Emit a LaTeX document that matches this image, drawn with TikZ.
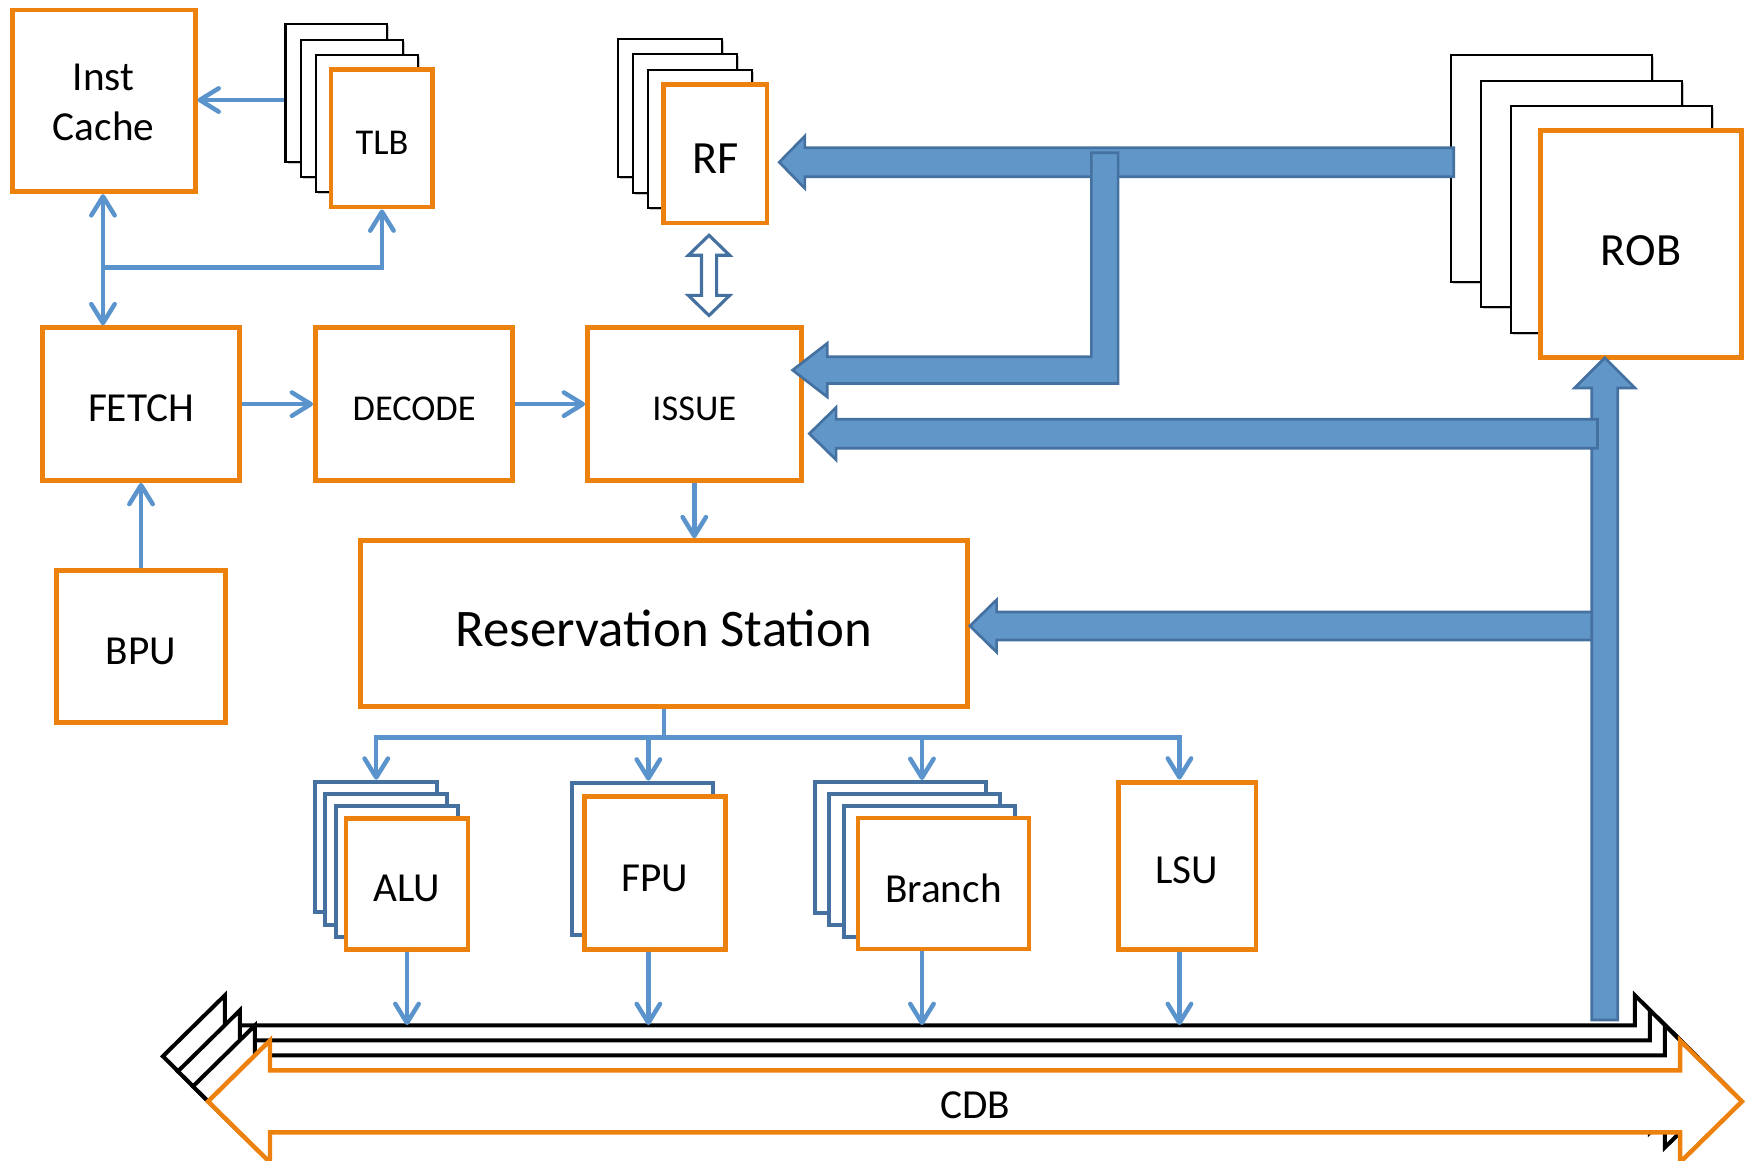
\documentclass[tikz,border=0pt]{standalone}
\usepackage{fontspec}
\setmainfont{Carlito}
\usetikzlibrary{arrows.meta,calc,shadows}
\definecolor{orng}{RGB}{236,129,14}
\definecolor{lblue}{RGB}{91,148,204}
\definecolor{fblue}{RGB}{97,150,201}
\definecolor{dblue}{RGB}{69,113,160}
\newcommand\dn[2][2pt]{\raisebox{-#1}[\height][\depth]{#2}}
\tikzset{
  shad/.style={drop shadow={shadow xshift=0.9pt,shadow yshift=-0.9pt,opacity=0.22,fill=black}},
  obox/.style={draw=orng,line width=2.2pt,fill=white,rectangle,inner sep=0pt,align=center,shad,
    font=\fontsize{18.5}{22.5}\selectfont},
  kbox/.style={draw=black,line width=0.9pt,fill=white,rectangle,inner sep=0pt,shad},
  bbox/.style={draw=dblue,line width=1.8pt,fill=white,rectangle,inner sep=0pt},
  conn/.style={draw=lblue,line width=2pt},
  fat/.style={fill=fblue,draw=dblue,line width=1.2pt,line join=miter},
  smallfont/.style={font=\fontsize{16.3}{19}\selectfont},
  bigfont/.style={font=\fontsize{20.7}{24}\selectfont},
}
\begin{document}
\begin{tikzpicture}[x=0.5pt,y=-0.5pt,>={Straight Barb[length=8.5pt,width=10.5pt,round]}]
\useasboundingbox (0,0) rectangle (1568,1041);
\clip (0,0) rectangle (1568,1041);

% ---------- Inst Cache + TLB
\node[obox,minimum width=82pt,minimum height=81.5pt] (IC) at (93,90.5)
  {\dn{\begin{tabular}{@{}c@{}}Inst\\Cache\end{tabular}}};
\node[kbox,minimum width=45.7pt,minimum height=61.5pt] (TLBa) at (301.8,83.4) {};
\node[kbox,minimum width=45.7pt,minimum height=61.5pt] (TLBb) at (315.4,97) {};
\node[kbox,minimum width=45.7pt,minimum height=61.5pt] (TLBc) at (329,110.6) {};
\node[obox,smallfont,minimum width=45.7pt,minimum height=61.5pt] (TLB) at (342.6,124.2) {\dn{TLB}};

% ---------- RF
\node[kbox,minimum width=46.5pt,minimum height=62pt] (RFa) at (600.7,97.2) {};
\node[kbox,minimum width=46.5pt,minimum height=62pt] (RFb) at (614.3,110.8) {};
\node[kbox,minimum width=46.5pt,minimum height=62pt] (RFc) at (627.9,124.4) {};
\node[obox,bigfont,minimum width=46.5pt,minimum height=62pt] (RF) at (641.5,138) {\dn{RF}};

% ---------- ROB
\node[kbox,minimum width=90pt,minimum height=101.75pt] (ROBa) at (1392,151.5) {};
\node[kbox,minimum width=90pt,minimum height=101.75pt] (ROBb) at (1418.7,174) {};
\node[kbox,minimum width=90pt,minimum height=101.75pt] (ROBc) at (1445.3,196.5) {};
\node[obox,bigfont,minimum width=90pt,minimum height=101.75pt] (ROB) at (1472,219) {\dn[3pt]{ROB}};

% ---------- pipeline
\node[obox,minimum width=88.5pt,minimum height=68.5pt] (FETCH) at (126.5,362.5) {\dn{FETCH}};
\node[obox,smallfont,minimum width=88.5pt,minimum height=68.5pt] (DECODE) at (371.5,362.5) {\dn{DECODE}};
\node[obox,smallfont,minimum width=95.8pt,minimum height=68.5pt] (ISSUE) at (622.8,362.5) {\dn{ISSUE}};
\node[obox,minimum width=75.5pt,minimum height=68pt] (BPU) at (126.5,580) {\dn{BPU}};
\node[obox,font=\fontsize{23.7}{28}\selectfont,minimum width=272.5pt,minimum height=74.5pt] (RS) at (595.5,559.5) {\dn{Reservation Station}};

% ---------- functional units
\node[bbox,minimum width=54.7pt,minimum height=58.5pt] (ALUa) at (337.2,759.7) {};
\node[bbox,minimum width=54.7pt,minimum height=58.5pt] (ALUb) at (346.5,770.8) {};
\node[bbox,minimum width=54.7pt,minimum height=58.5pt] (ALUc) at (355.8,781.9) {};
\node[obox,minimum width=54.7pt,minimum height=58.5pt] (ALU) at (365.1,793) {\dn{ALU}};

\node[bbox,minimum width=63.5pt,minimum height=68.5pt] (FPUa) at (576.5,770.5) {};
\node[obox,minimum width=63.5pt,minimum height=68.5pt] (FPU) at (587.5,783) {\dn[2.3pt]{FPU}};

\node[bbox,minimum width=76.7pt,minimum height=58.75pt] (BRa) at (807.7,760.2) {};
\node[bbox,minimum width=76.7pt,minimum height=58.75pt] (BRb) at (820.6,771) {};
\node[bbox,minimum width=76.7pt,minimum height=58.75pt] (BRc) at (833.4,781.8) {};
\node[obox,minimum width=76.7pt,minimum height=58.75pt] (BR) at (846.3,792.5) {\dn{Branch}};

\node[obox,minimum width=61.85pt,minimum height=74.9pt] (LSU) at (1064.8,776.4) {\dn{LSU}};

% ---------- CDB
\foreach \k in {3,2,1}{
  \draw[black,line width=1.8pt,fill=white,shift={(-13.5*\k,-13.5*\k)}]
    (186.6,988) -- (242.2,933.3) -- (242.2,960.2) -- (1507,960.2) -- (1507,933.3) -- (1562.6,988)
    -- (1507,1042.7) -- (1507,1015.8) -- (242.2,1015.8) -- (242.2,1042.7) -- cycle;
}
\draw[orng,line width=2pt,fill=white]
    (186.6,988) -- (242.2,933.3) -- (242.2,960.2) -- (1507,960.2) -- (1507,933.3) -- (1562.6,988)
    -- (1507,1042.7) -- (1507,1015.8) -- (242.2,1015.8) -- (242.2,1042.7) -- cycle;
\node[font=\fontsize{18.5}{22}\selectfont] (CDB) at (875,991) {CDB};
\coordinate (cdbTop) at (875,919.5);

% ---------- thin connectors
\coordinate (hTLB) at (0,89.7);
\draw[conn,->] (TLBa.west |- hTLB) -- (IC.east |- hTLB);
\coordinate (vIC) at (92.4,240);
\draw[conn,<->] (IC.south -| vIC) -- (FETCH.north -| vIC);
\draw[conn,->] (vIC) -| (TLB.south);
\draw[conn,->] (FETCH) -- (DECODE);
\draw[conn,->] (DECODE) -- (ISSUE);
\draw[conn,->] (BPU) -- (FETCH);
\draw[conn,->] (ISSUE.south) -- (ISSUE.south |- RS.north);

\coordinate (busL) at (337.5,661.5);
\coordinate (busR) at (1058,661.5);
\coordinate (xF) at (581.6,0);
\coordinate (xB) at (827,0);
\draw[conn] (RS.south) -- (RS.south |- busL);
\draw[conn,<->] (busL |- ALUa.north) -- (busL) -- (busR) -- (busR |- LSU.north);
\draw[conn,->] (xF |- busL) -- (xF |- FPUa.north);
\draw[conn,->] (xB |- busL) -- (xB |- BRa.north);

\draw[conn,->] (ALU.south) -- (ALU.south |- cdbTop);
\draw[conn,->] (FPU.south -| xF) -- (xF |- cdbTop);
\draw[conn,->] (BR.south -| xB) -- (xB |- cdbTop);
\draw[conn,->] (LSU.south -| busR) -- (busR |- cdbTop);

% ---------- fat arrows
% ROB -> RF
\draw[fat] (699,145.5) -- (722,122) -- (722,132.5) -- (1304,132.5) -- (1304,158.5)
  -- (722,158.5) -- (722,169) -- cycle;
% branch down to ISSUE
\draw[fat] (711,332) -- (742,308) -- (742,320) -- (979,320) -- (979,137) -- (1003,137)
  -- (1003,344) -- (742,344) -- (742,356) -- cycle;
% CDB -> RS
\draw[fat] (870,561.5) -- (894,538) -- (894,549) -- (1430,549) -- (1430,574)
  -- (894,574) -- (894,585) -- cycle;
% CDB -> ROB
\draw[fat] (1439.5,321) -- (1466.5,348) -- (1451.2,348) -- (1451.2,915) -- (1427.8,915)
  -- (1427.8,348) -- (1412.5,348) -- cycle;
% CDB -> ISSUE
\draw[fat] (726,389) -- (750,365.5) -- (750,376) -- (1433,376) -- (1433,402)
  -- (750,402) -- (750,412.5) -- cycle;
% RF <-> ISSUE
\draw[draw=dblue,fill=white,line width=1.4pt,line join=miter]
  (636,211) -- (654.5,229) -- (642.8,229) -- (642.8,265) -- (654.5,265) -- (636,283)
  -- (617.5,265) -- (629.2,265) -- (629.2,229) -- (617.5,229) -- cycle;
\end{tikzpicture}
\end{document}
